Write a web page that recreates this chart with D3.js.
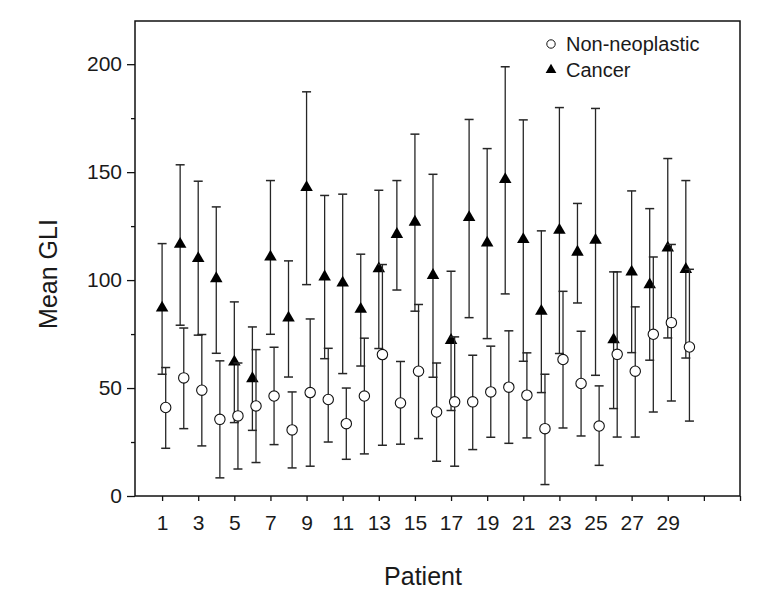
<!DOCTYPE html>
<html>
<head>
<meta charset="utf-8">
<script src="https://cdn.jsdelivr.net/npm/d3@7"></script>
<style>
  html, body { margin: 0; padding: 0; background: #fff; }
  svg { display: block; }
  text { font-family: "Liberation Sans", Arial, Helvetica, sans-serif; fill: #1a1a1a; }
</style>
</head>
<body>
<svg id="chart" width="766" height="601"></svg>
<script>
const patients = [1,2,3,4,5,6,7,8,9,10,11,12,13,14,15,16,17,18,19,20,21,22,23,24,25,26,27,28,29,30];
const cancerMean  = [87.1,116.6,110.0,100.7,62.1,54.4,110.7,82.5,142.9,101.5,98.7,86.5,105.3,121.2,126.9,102.2,72.1,129.0,117.2,146.6,118.8,85.6,123.1,113.0,118.5,72.4,103.8,97.9,114.9,105.0];
const cancerUpper = [116.9,153.4,145.8,133.9,89.9,78.3,146.1,108.9,187.2,139.2,139.8,112.0,141.6,146.1,167.6,149.0,104.1,174.4,160.9,198.8,174.2,122.8,179.9,135.5,179.5,103.8,141.3,133.1,156.3,146.1];
const cancerLower = [56.4,79.1,74.5,66.1,34.0,30.4,74.9,55.1,97.9,63.6,56.7,60.2,68.3,95.4,85.6,55.0,39.6,82.6,72.9,93.6,62.4,47.9,66.0,89.4,55.9,40.5,66.4,62.9,73.2,63.9];
const nonMean  = [41.0,54.7,49.0,35.5,37.1,41.7,46.3,30.6,47.9,44.7,33.5,46.3,65.5,43.1,57.8,38.9,43.6,43.6,48.2,50.4,46.7,31.2,63.2,52.1,32.4,65.6,57.8,74.9,80.3,69.0];
const nonUpper = [59.5,77.8,74.8,62.6,61.6,67.8,68.9,48.2,82.0,68.4,50.0,73.1,107.2,62.3,88.7,61.6,73.7,65.2,69.4,76.5,66.3,56.4,94.8,76.3,51.0,103.8,87.6,110.7,116.5,105.0];
const nonLower = [22.1,31.2,23.2,8.4,12.5,15.5,23.8,13.0,13.8,25.0,17.0,19.5,23.5,24.0,26.6,16.1,13.8,21.5,27.2,24.4,26.9,5.3,31.5,27.8,14.2,27.3,27.3,38.9,44.0,34.7];

const xTicks = [1,3,5,7,9,11,13,15,17,19,21,23,25,27,29,31,33];
const xTickLabels = ["1","3","5","7","9","11","13","15","17","19","21","23","25","27","29","",""];
const yMajorTicks = [0,50,100,150,200];
const yMinorTicks = [25,75,125,175];
const seriesNames = ["Non-neoplastic","Cancer"];

const svg = d3.select("#chart");
const L = 135, R = 740, T = 21, B = 496;
const x = d3.scaleLinear().domain([-0.5, 33]).range([L, R]);
const y = d3.scaleLinear().domain([0, 220]).range([B, T]);
const nonOffset = 0.2;
const capW = 4.5;
const barColor = "#262626";

// frame
svg.append("rect").attr("x", L).attr("y", T).attr("width", R - L).attr("height", B - T)
  .attr("fill", "none").attr("stroke", "#111").attr("stroke-width", 1.5);

// y axis
const yAxis = d3.axisLeft(y).tickValues(yMajorTicks).tickSize(8).tickPadding(5).tickFormat(d3.format("d"));
const gy = svg.append("g").attr("transform", `translate(${L},0)`).call(yAxis);
gy.select(".domain").remove();
gy.selectAll(".tick line").attr("stroke", "#111").attr("stroke-width", 1.3);
gy.selectAll(".tick text").style("font-size", "21px").attr("fill", "#1a1a1a");
const gyMinor = svg.append("g").attr("transform", `translate(${L},0)`)
  .call(d3.axisLeft(y).tickValues(yMinorTicks).tickSize(4).tickFormat(""));
gyMinor.select(".domain").remove();
gyMinor.selectAll(".tick line").attr("stroke", "#111").attr("stroke-width", 1.3);

// x axis
const xAxis = d3.axisBottom(x).tickValues(xTicks).tickSize(5).tickPadding(14)
  .tickFormat((d, i) => xTickLabels[i]);
const gx = svg.append("g").attr("transform", `translate(0,${B})`).call(xAxis);
gx.select(".domain").remove();
gx.selectAll(".tick line").attr("stroke", "#111").attr("stroke-width", 1.3);
gx.selectAll(".tick text").style("font-size", "21px").attr("fill", "#1a1a1a");

// error bars
function drawSeries(mean, lo, hi, off, cls) {
  const g = svg.append("g").attr("class", cls);
  const rows = patients.map((p, i) => ({p, m: mean[i], lo: lo[i], hi: hi[i]}));
  const e = g.selectAll("g").data(rows).enter().append("g");
  e.append("line").attr("x1", d => x(d.p + off)).attr("x2", d => x(d.p + off))
    .attr("y1", d => y(d.lo)).attr("y2", d => y(d.hi)).attr("stroke", barColor).attr("stroke-width", 1.3);
  e.append("line").attr("x1", d => x(d.p + off) - capW).attr("x2", d => x(d.p + off) + capW)
    .attr("y1", d => y(d.hi)).attr("y2", d => y(d.hi)).attr("stroke", barColor).attr("stroke-width", 1.5);
  e.append("line").attr("x1", d => x(d.p + off) - capW).attr("x2", d => x(d.p + off) + capW)
    .attr("y1", d => y(d.lo)).attr("y2", d => y(d.lo)).attr("stroke", barColor).attr("stroke-width", 1.5);
  return {g, rows};
}
const c = drawSeries(cancerMean, cancerLower, cancerUpper, 0, "cancer");
const n = drawSeries(nonMean, nonLower, nonUpper, nonOffset, "non");

const tri = d3.symbol().type(d3.symbolTriangle).size(68);
c.g.selectAll("path.m").data(c.rows).enter().append("path").attr("class", "m")
  .attr("d", tri).attr("transform", d => `translate(${x(d.p)},${y(d.m)})`)
  .attr("fill", "#000");
n.g.selectAll("circle").data(n.rows).enter().append("circle")
  .attr("cx", d => x(d.p + nonOffset)).attr("cy", d => y(d.m)).attr("r", 5.2)
  .attr("fill", "#fff").attr("stroke", "#111").attr("stroke-width", 1.1);

// legend
const lg = svg.append("g");
lg.append("circle").attr("cx", 551).attr("cy", 44).attr("r", 4.2).attr("fill", "#fff").attr("stroke", "#111").attr("stroke-width", 1);
lg.append("path").attr("d", d3.symbol().type(d3.symbolTriangle).size(50)).attr("transform", "translate(551,70)").attr("fill", "#000");
lg.selectAll("text").data(seriesNames).enter().append("text")
  .attr("x", 566).attr("y", (d, i) => 44 + i * 26).attr("dy", "0.35em")
  .style("font-size", "20px").attr("fill", "#1a1a2a").text(d => d);

// axis titles
svg.append("text").attr("x", 423).attr("y", 585).attr("text-anchor", "middle")
  .style("font-size", "25px").text("Patient");
svg.append("text").attr("transform", "translate(57,274) rotate(-90)").attr("text-anchor", "middle")
  .style("font-size", "25px").text("Mean GLI");
</script>
</body>
</html>
